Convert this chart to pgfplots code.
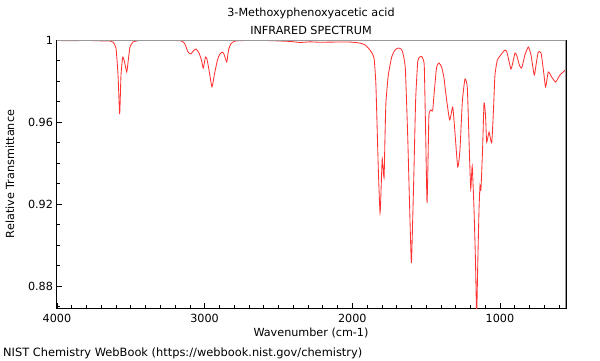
\documentclass[border=0pt]{standalone}
\usepackage{fontspec}
\setmainfont{DejaVu Sans}
\usepackage{pgfplots}
\pgfplotsset{compat=1.18}
\definecolor{spec}{RGB}{255,50,50}
\begin{document}
\fontsize{11.2}{13}\selectfont
\begin{tikzpicture}[x=1pt,y=1pt]
\path[use as bounding box] (0,0) rectangle (600,360);
\begin{axis}[
 at={(56.9pt,52pt)}, anchor=south west, scale only axis,
 width=509.1pt, height=268pt,
 x dir=reverse, xmin=553, xmax=4000, ymin=0.8693, ymax=1,
 axis line style={black, line width=0.8pt},
 xtick={1000,2000,3000,4000}, xticklabels={1000,2000,3000,4000},
 minor xtick={600,700,...,3900},
 ytick={0.88,0.92,0.96,1}, yticklabels={0.88,0.92,0.96,1},
 minor ytick={0.87,0.89,0.90,0.91,0.93,0.94,0.95,0.97,0.98,0.99},
 xtick pos=bottom, ytick pos=left,
 tick align=inside, major tick length=5pt, minor tick length=3pt,
 tick style={black, line width=0.6pt},
 xticklabel style={yshift=-2pt},
 ticklabel style={font=\fontsize{11.2}{13}\selectfont},
 /pgf/number format/assume math mode=true,
]
\addplot[spec, line width=0.85pt, smooth, tension=0.3] coordinates {
(4000,0.9998) (3911,0.9996) (3810,0.9998) (3708,0.9996) (3640,0.9995) (3620,0.9990)
(3600,0.9961) (3586,0.9829) (3575,0.9639) (3566,0.9829) (3554,0.9917) (3542,0.9893)
(3527,0.9844) (3515,0.9912) (3505,0.9966) (3485,0.9990) (3437,0.9998) (3302,0.9999)
(3160,0.9996) (3133,0.9980) (3112,0.9941) (3092,0.9932) (3078,0.9946) (3058,0.9956)
(3038,0.9937) (3021,0.9902) (3009,0.9863) (2994,0.9917) (2984,0.9907) (2970,0.9854)
(2950,0.9771) (2933,0.9834) (2913,0.9902) (2896,0.9932) (2880,0.9941) (2869,0.9932)
(2850,0.9893) (2838,0.9951) (2823,0.9980) (2794,0.9995) (2693,0.9998) (2557,0.9997)
(2422,0.9993) (2354,0.9988) (2286,0.9991) (2219,0.9989) (2117,0.9990) (2016,0.9990)
(1948,0.9985) (1914,0.9976) (1880,0.9951) (1853,0.9912) (1840,0.9780) (1824,0.9376)
(1812,0.9156) (1804,0.9293) (1797,0.9420) (1785,0.9327) (1779,0.9512) (1772,0.9698)
(1756,0.9829) (1733,0.9917) (1711,0.9951) (1689,0.9961) (1670,0.9956) (1659,0.9941)
(1641,0.9863) (1625,0.9537) (1613,0.9220) (1600,0.8912) (1591,0.9122) (1582,0.9376)
(1571,0.9707) (1557,0.9893) (1544,0.9917) (1530,0.9920) (1518,0.9902) (1512,0.9863)
(1503,0.9537) (1494,0.9205) (1487,0.9415) (1481,0.9634) (1467,0.9659) (1456,0.9654)
(1445,0.9746) (1429,0.9868) (1413,0.9888) (1395,0.9868) (1379,0.9815) (1368,0.9746)
(1341,0.9610) (1320,0.9673) (1305,0.9551) (1286,0.9380) (1271,0.9463) (1255,0.9698)
(1237,0.9810) (1221,0.9766) (1208,0.9473) (1198,0.9273) (1188,0.9385) (1176,0.9180)
(1166,0.8927) (1158,0.8659) (1151,0.8888) (1142,0.9171) (1135,0.9293) (1129,0.9268)
(1118,0.9463) (1108,0.9693) (1098,0.9634) (1090,0.9502) (1074,0.9551) (1056,0.9498)
(1044,0.9659) (1034,0.9829) (1018,0.9902) (1000,0.9922) (980,0.9941) (966,0.9951)
(953,0.9941) (926,0.9859) (912,0.9893) (898,0.9937) (885,0.9922) (869,0.9878)
(853,0.9863) (831,0.9927) (808,0.9966) (790,0.9927) (768,0.9829) (756,0.9878)
(741,0.9941) (722,0.9937) (706,0.9854) (691,0.9771) (673,0.9844) (650,0.9820)
(623,0.9795) (594,0.9829) (557,0.9854)
};
\draw[black!40, line width=1.5pt] (rel axis cs:0,1) -- (rel axis cs:1,1) -- (rel axis cs:1,0);
\end{axis}
\node[anchor=base] at (311,344) {3-Methoxyphenoxyacetic acid};
\node[anchor=base] at (311,326) {INFRARED SPECTRUM};
\node[anchor=base] at (311,24) {Wavenumber (cm-1)};
\node[anchor=base, rotate=90] at (14,186) {Relative Transmittance};
\node[anchor=base west, inner sep=0pt, font=\fontsize{11.4}{13}\selectfont] at (3,4) {NIST Chemistry WebBook (https://webbook.nist.gov/chemistry)};
\end{tikzpicture}
\end{document}
